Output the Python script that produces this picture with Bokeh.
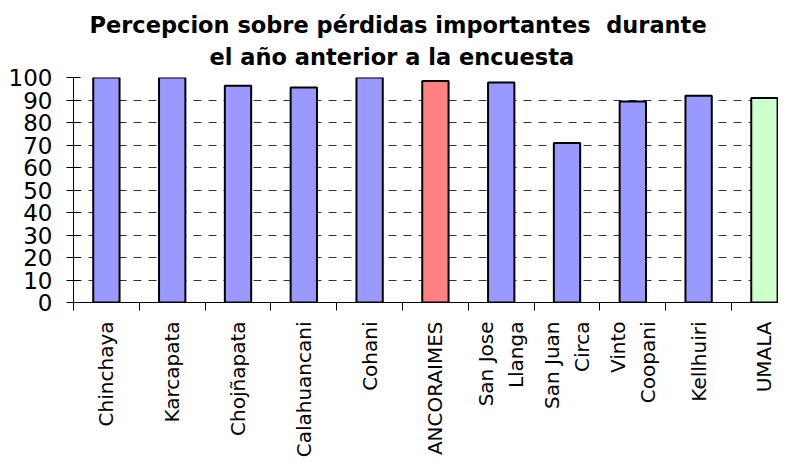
import math
from bokeh.plotting import figure
from bokeh.models import Range1d, FixedTicker, Title, ColumnDataSource
from bokeh.embed import file_html
from bokeh.resources import INLINE

categories = ["Chinchaya", "Karcapata", "Chojñapata", "Calahuancani", "Cohani",
              "ANCORAIMES", "San Jose\nLlanga", "San Juan\nCirca", "Vinto\nCoopani",
              "Kellhuiri", "UMALA"]
values = [100, 100, 96.3, 95.6, 100, 98.5, 97.8, 70.9, 89.3, 91.9, 90.9]
colors = ["#9999FF"] * 5 + ["#FF8080"] + ["#9999FF"] * 4 + ["#CCFFCC"]
y_ticks = [0, 10, 20, 30, 40, 50, 60, 70, 80, 90, 100]
title_line1 = "Percepcion sobre pérdidas importantes\u00a0 durante"
title_line2 = "el año anterior a la encuesta"

pos = list(range(len(categories)))
src = ColumnDataSource(dict(x=pos, top=values, color=colors))

p = figure(width=778, height=460, output_backend="svg", toolbar_location=None,
           x_range=Range1d(-0.5, 10.214), y_range=Range1d(0, 100),
           min_border_left=73, min_border_right=0, min_border_top=77,
           min_border_bottom=156, title=None)
p.outline_line_color = None
p.background_fill_color = "white"
p.border_fill_color = "white"

p.vbar(x="x", top="top", bottom=0, width=0.4, fill_color="color",
       line_color="black", line_width=2, source=src)

# x axis
p.xaxis.ticker = FixedTicker(ticks=pos, minor_ticks=[i - 0.5 for i in range(len(categories) + 1)])
p.xaxis.major_label_overrides = {i: c for i, c in enumerate(categories)}
p.xaxis.major_label_orientation = math.pi / 2
p.xaxis.major_tick_in = 0
p.xaxis.major_tick_out = 0
p.xaxis.minor_tick_in = 0
p.xaxis.minor_tick_out = 8
p.xaxis.minor_tick_line_color = "black"
p.xaxis.axis_line_color = "black"
p.xaxis.major_label_standoff = 11
p.xaxis.major_label_text_font = "DejaVu Sans"
p.xaxis.major_label_text_font_size = "20px"
p.xaxis.major_label_text_color = "black"
p.xaxis.major_label_text_line_height = 1.25

# y axis
p.yaxis.ticker = FixedTicker(ticks=y_ticks, minor_ticks=[])
p.yaxis.major_tick_in = 7
p.yaxis.major_tick_out = 7
p.yaxis.major_tick_line_color = "black"
p.yaxis.axis_line_color = "black"
p.yaxis.major_label_standoff = 14
p.yaxis.major_label_text_font = "DejaVu Sans"
p.yaxis.major_label_text_font_size = "23px"
p.yaxis.major_label_text_color = "black"

# grid
p.xgrid.visible = False
p.ygrid.ticker = FixedTicker(ticks=y_ticks, minor_ticks=[])
p.ygrid.grid_line_color = "#333333"
p.ygrid.grid_line_dash = "8 7"
p.ygrid.grid_line_width = 1

t2 = Title(text=title_line2, align="left", offset=136, text_font="DejaVu Sans",
           text_font_size="22.5px", text_font_style="bold", text_color="black", standoff=15)
p.add_layout(t2, "above")
t1 = Title(text=title_line1, align="left", offset=16, text_font="DejaVu Sans",
           text_font_size="22.5px", text_font_style="bold", text_color="black", standoff=-7)
p.add_layout(t1, "above")

open("out.html", "w").write(file_html(p, INLINE))
